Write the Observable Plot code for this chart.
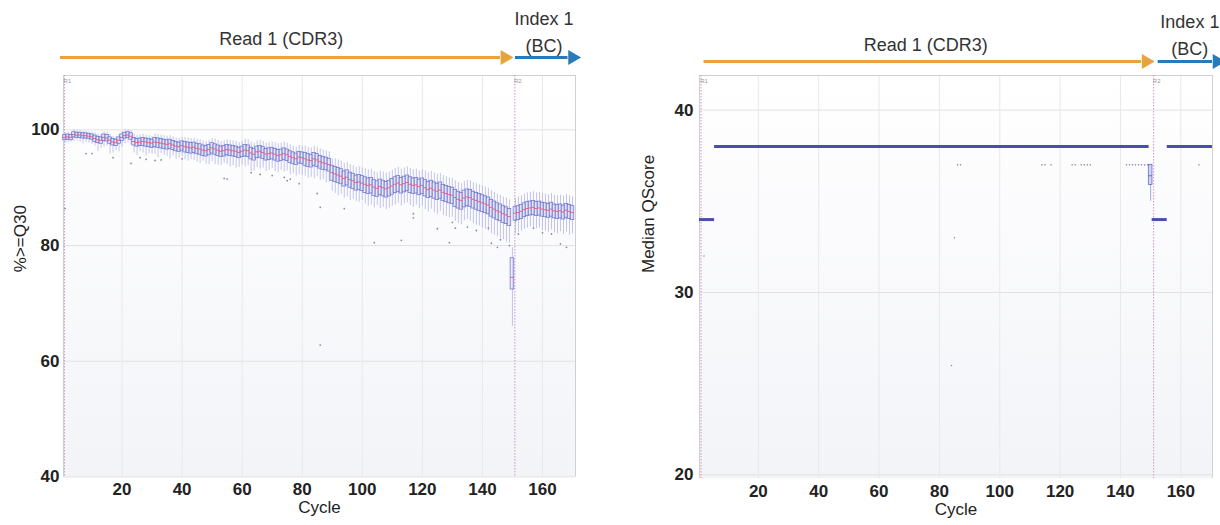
<!DOCTYPE html>
<html><head><meta charset="utf-8">
<script src="https://cdn.jsdelivr.net/npm/d3@7"></script>
<script src="https://cdn.jsdelivr.net/npm/@observablehq/plot@0.6"></script>
<style>
html,body{margin:0;padding:0;background:#fff;}
#wrap{position:relative;width:1220px;height:525px;overflow:hidden;}
#left{position:absolute;left:0;top:0;}
#right{position:absolute;left:630px;top:0;}
</style></head><body><div id="wrap"><div id="left"></div><div id="right"></div></div>
<script>
// ---------- shared ----------
const readNames = ["Read 1 (CDR3)", "Index 1\n(BC)"];
const readStart = [1, 151];
const readEnd = [150, 170];
const cycleTicks = [20, 40, 60, 80, 100, 120, 140, 160];

// ---------- left panel: %>=Q30 per cycle (box plot summaries) ----------
const q30Ticks = [40, 60, 80, 100];
const q30Median = [
98.7,98.8,98.7,99.2,99.1,99.1,99.0,99.0,98.9,98.8,
98.5,98.3,98.2,98.7,98.6,98.2,97.9,97.8,98.2,98.7,
99.0,99.1,98.9,98.0,97.8,97.9,98.0,97.9,97.8,97.7,
97.9,97.8,97.7,97.6,97.5,97.6,97.4,97.2,97.1,97.3,
97.1,97.0,96.9,97.0,96.8,96.7,96.5,96.4,96.6,96.9,
96.7,96.5,96.3,96.4,96.6,96.5,96.4,96.3,96.1,96.3,
96.5,96.4,96.0,95.8,96.2,96.3,96.1,95.8,95.9,96.0,
95.8,95.6,95.7,95.9,95.7,95.4,95.2,95.0,95.3,95.2,
95.0,94.8,94.7,95.0,94.8,94.5,94.3,94.2,94.0,92.6,
92.4,92.2,92.0,91.6,91.8,91.4,91.2,90.9,91.0,90.8,
90.6,90.4,90.5,90.1,89.9,90.2,90.0,89.8,90.0,90.3,
90.6,90.8,90.5,90.7,90.9,90.6,90.4,90.5,90.2,90.4,
90.0,89.7,89.9,89.6,89.4,89.6,89.2,89.0,88.8,88.7,
88.3,88.0,87.8,88.2,88.4,88.3,88.0,87.8,87.6,87.4,
87.2,87.0,86.6,86.3,86.0,85.8,85.5,85.3,85.0,74.5,
85.6,85.7,85.9,86.2,86.4,86.5,86.6,86.4,86.5,86.3,
86.2,86.1,86.3,86.0,85.9,86.0,85.8,86.1,85.9,85.7];
const q30Q1 = [
98.2,98.3,98.2,98.7,98.6,98.6,98.5,98.5,98.4,98.3,
97.9,97.7,97.6,98.1,98.0,97.6,97.3,97.2,97.6,98.1,
98.5,98.6,98.3,97.3,97.1,97.2,97.2,97.1,97.0,96.9,
97.0,96.9,96.8,96.7,96.6,96.7,96.5,96.3,96.2,96.4,
96.1,96.0,95.9,96.0,95.8,95.7,95.5,95.4,95.6,95.9,
95.7,95.5,95.3,95.4,95.6,95.5,95.4,95.3,95.1,95.3,
95.4,95.3,94.9,94.7,95.1,95.2,95.0,94.7,94.8,94.9,
94.7,94.5,94.6,94.8,94.6,94.3,94.1,93.9,94.2,94.1,
93.8,93.6,93.5,93.8,93.6,93.3,93.1,93.0,92.8,91.2,
91.0,90.8,90.6,90.2,90.4,90.0,89.8,89.5,89.6,89.4,
89.1,88.9,89.0,88.6,88.4,88.7,88.5,88.3,88.5,88.8,
89.1,89.3,89.0,89.2,89.4,89.1,88.9,89.0,88.7,88.9,
88.5,88.2,88.4,88.1,87.9,88.1,87.7,87.5,87.3,87.2,
86.7,86.4,86.2,86.6,86.8,86.7,86.4,86.2,86.0,85.8,
85.6,85.4,85.0,84.7,84.4,84.2,83.9,83.7,83.4,72.4,
84.3,84.4,84.6,84.9,85.1,85.2,85.3,85.1,85.2,85.0,
84.9,84.8,85.0,84.7,84.6,84.7,84.5,84.8,84.6,84.4];
const q30Q3 = [
99.1,99.2,99.1,99.6,99.5,99.5,99.4,99.4,99.3,99.2,
99.0,98.8,98.7,99.2,99.1,98.7,98.4,98.3,98.7,99.2,
99.5,99.6,99.4,98.6,98.4,98.5,98.6,98.5,98.4,98.3,
98.6,98.5,98.4,98.3,98.2,98.3,98.1,97.9,97.8,98.0,
97.9,97.8,97.7,97.8,97.6,97.5,97.3,97.2,97.4,97.7,
97.5,97.3,97.1,97.2,97.4,97.3,97.2,97.1,96.9,97.1,
97.4,97.3,96.9,96.7,97.1,97.2,97.0,96.7,96.8,96.9,
96.7,96.5,96.6,96.8,96.6,96.3,96.1,95.9,96.2,96.1,
96.0,95.8,95.7,96.0,95.8,95.5,95.3,95.2,95.0,93.8,
93.6,93.4,93.2,92.8,93.0,92.6,92.4,92.1,92.2,92.0,
91.8,91.6,91.7,91.3,91.1,91.4,91.2,91.0,91.2,91.5,
91.8,92.0,91.7,91.9,92.1,91.8,91.6,91.7,91.4,91.6,
91.3,91.0,91.2,90.9,90.7,90.9,90.5,90.3,90.1,90.0,
89.6,89.3,89.1,89.5,89.7,89.6,89.3,89.1,88.9,88.7,
88.5,88.3,87.9,87.6,87.3,87.1,86.8,86.6,86.3,77.8,
86.7,86.8,87.0,87.3,87.5,87.6,87.7,87.5,87.6,87.4,
87.3,87.2,87.4,87.1,87.0,87.1,86.9,87.2,87.0,86.8];
const q30Low = [
97.6,97.8,97.9,98.0,98.1,97.9,97.6,97.8,97.7,97.5,
97.2,96.3,96.8,97.0,97.2,95.8,96.0,96.4,96.2,97.0,
97.6,97.8,97.4,96.0,95.6,96.2,96.0,95.5,95.9,95.8,
95.8,95.2,95.9,95.6,95.4,95.0,95.5,94.9,95.1,95.4,
94.8,94.6,94.9,94.7,94.4,94.2,94.6,94.1,94.0,94.5,
94.0,93.9,93.8,94.2,94.0,93.6,93.8,93.4,93.5,93.9,
93.6,93.8,92.8,92.9,93.5,93.2,93.4,92.8,93.0,93.3,
92.8,92.6,93.0,92.7,92.9,92.2,92.4,92.0,92.3,92.1,
92.0,91.6,91.8,91.5,91.9,91.2,91.4,90.8,91.0,89.4,
89.0,88.6,88.9,88.2,88.4,87.8,88.0,87.6,87.5,87.8,
87.2,86.8,87.0,86.5,86.9,86.4,86.6,86.2,86.5,86.8,
87.0,87.3,86.8,87.2,87.4,86.9,86.6,87.0,86.4,86.8,
86.2,85.8,86.3,85.7,85.4,85.9,85.2,85.0,84.8,84.9,
84.2,83.8,83.6,84.3,84.5,84.2,83.8,83.5,83.4,83.0,
82.8,82.5,82.0,81.8,81.5,81.2,81.0,80.6,80.4,66.0,
82.0,82.3,82.5,82.8,83.0,83.2,83.1,82.9,83.0,82.6,
82.5,82.3,82.7,82.2,82.0,82.4,81.9,82.3,81.8,82.0];
const q30High = [
99.5,99.6,99.5,100.0,99.9,99.9,99.8,99.8,99.7,99.6,
99.5,99.3,99.2,99.7,99.6,99.2,98.9,98.8,99.2,99.7,
100.0,100.0,99.9,99.2,99.0,99.1,99.2,99.1,99.0,98.9,
99.3,99.2,99.1,99.0,98.9,99.0,98.8,98.6,98.5,98.7,
98.7,98.6,98.5,98.6,98.4,98.3,98.1,98.0,98.2,98.5,
98.4,98.2,98.0,98.1,98.3,98.2,98.1,98.0,97.8,98.0,
98.4,98.3,97.9,97.7,98.1,98.2,98.0,97.7,97.8,97.9,
97.8,97.6,97.7,97.9,97.7,97.4,97.2,97.0,97.3,97.2,
97.2,97.0,96.9,97.2,97.0,96.7,96.5,96.4,96.2,95.0,
95.0,94.8,94.6,94.2,94.4,94.0,93.8,93.5,93.6,93.4,
93.3,93.1,93.2,92.8,92.6,92.9,92.7,92.5,92.7,93.0,
93.3,93.5,93.2,93.4,93.6,93.3,93.1,93.2,92.9,93.1,
92.9,92.6,92.8,92.5,92.3,92.5,92.1,91.9,91.7,91.6,
91.2,90.9,90.7,91.1,91.3,91.2,90.9,90.7,90.5,90.3,
90.1,89.9,89.5,89.2,88.9,88.7,88.4,88.2,87.9,79.6,
88.2,88.4,88.6,88.9,89.1,89.2,89.3,89.1,89.2,89.0,
88.9,88.8,89.0,88.7,88.6,88.7,88.5,88.8,88.6,88.4];
const q30OutCycle = [1,8,10,17,23,26,28,31,33,40,54,55,63,66,70,74,75,76,79,85,86,86,94,104,113,117,117,125,129,130,131,135,138,142,143,145,146,149,151,152,157,160,163,166,168];
const q30OutValue = [86.4,95.9,95.9,95.2,94.2,95.2,94.9,94.7,94.8,95.0,91.6,91.5,92.6,92.3,92.1,91.8,91.2,91.5,90.7,89.0,86.6,62.8,86.4,80.5,80.9,85.5,84.8,82.9,80.5,84.0,83.0,83.2,82.6,83.0,80.4,79.7,81.0,80.0,84.3,82.0,83.0,82.2,82.0,80.3,79.7];

// ---------- right panel: median QScore per cycle ----------
const qsTicks = [20, 30, 40];
const qsRunFrom = [1, 6, 151, 156];
const qsRunTo = [5, 149, 155, 170];
const qsRunMedian = [34, 38, 34, 38];
const qsBoxCycle = [150];
const qsBoxLow = [35.0];
const qsBoxQ1 = [35.9];
const qsBoxMedian = [36.4];
const qsBoxQ3 = [37.0];
const qsBoxHigh = [37.0];
const qsOutCycle = [2,84,85,86,87,114,115,117,124,125,127,128,129,130,142,143,144,145,146,147,148,149,166];
const qsOutValue = [32,26,33,37,37,37,37,37,37,37,37,37,37,37,37,37,37,37,37,37,37,37,37];

// ---------- tables ----------
const reads = readNames.map((name, i) => ({name, start: readStart[i], end: readEnd[i]}));
const q30 = q30Median.map((m, i) => ({cycle: i + 1, med: m, q1: q30Q1[i], q3: q30Q3[i], lo: q30Low[i], hi: q30High[i]}));
const q30Out = q30OutCycle.map((c, i) => ({cycle: c, v: q30OutValue[i]}));
const qsRuns = qsRunFrom.map((f, i) => ({from: f, to: qsRunTo[i], med: qsRunMedian[i]}));
const qsBox = qsBoxCycle.map((c, i) => ({cycle: c, lo: qsBoxLow[i], q1: qsBoxQ1[i], med: qsBoxMedian[i], q3: qsBoxQ3[i], hi: qsBoxHigh[i]}));
const qsOut = qsOutCycle.map((c, i) => ({cycle: c, v: qsOutValue[i]}));

const FONT = "'Liberation Sans', Arial, sans-serif";
const readColors = ["#e8a33b", "#2a7ab7"];

function panel({width, marginLeft, marginRight, xDomain, yDomain, yTicks, yLabel, yLabelDx, gradId, annot, data}) {
  const yTop = yDomain[1];
  const marks = [
    Plot.frame({fill: `url(#${gradId})`, stroke: null}),
    Plot.ruleY(yTicks, {stroke: "#e2e2e2", strokeWidth: 1}),
    Plot.ruleX(cycleTicks, {stroke: "#e8e8ec", strokeWidth: 1}),
    Plot.ruleY([yTop], {stroke: "#cfcfcf"}),
    Plot.ruleX(xDomain, {stroke: "#cfcfd4"}),
    Plot.ruleX(readStart, {x: d => d + annot.rOff, stroke: "#cf94c6", strokeDasharray: "1.5,1.5", strokeWidth: 1}),
    Plot.text(readStart, {x: d => d + annot.rOff, y: () => yTop, text: (d, i) => "R" + (i + 1), fontSize: 6, fill: "#999", dy: 6, dx: 3}),
    ...data,
    Plot.axisY({ticks: yTicks, tickSize: 0, tickPadding: annot.yPad, fontSize: 17, fontWeight: "bold", fill: "#222", label: null}),
    Plot.axisX({ticks: cycleTicks, tickSize: 0, tickPadding: 6, fontSize: 17, fontWeight: "bold", fill: "#222", label: null}),
    Plot.text(["Cycle"], {frameAnchor: "bottom", dy: annot.cycleDy, fontSize: 17, fill: "#222"}),
    Plot.text([yLabel], {frameAnchor: "left", rotate: -90, dx: yLabelDx, dy: -4, fontSize: 17, fill: "#222"}),
    // read annotations
    Plot.ruleY(reads, {x1: (d, i) => d.start + annot.lineFrom[i], x2: (d, i) => d.end + annot.lineTo[i], y: () => yTop, dy: annot.arrowDy, stroke: "name", strokeWidth: 3}),
    Plot.dot(reads, {x: (d, i) => d.end + annot.lineTo[i] + 1.5, y: () => yTop, dy: annot.arrowDy, symbol: "triangle", rotate: 90, r: 5.5, fill: "name", stroke: null}),
    ...reads.map((r, i) => Plot.text([r], {x: d => (d.start + d.end) / 2 + annot.textOff[i], y: () => yTop, dy: annot.textDy[i], text: "name", lineAnchor: "bottom", lineHeight: 1.45, fontSize: 18, fill: "#333"}))
  ];
  const svg = Plot.plot({
    width, height: 525, marginTop: 75, marginBottom: annot.marginBottom, marginLeft, marginRight,
    style: {fontFamily: FONT, background: "transparent", overflow: "visible"},
    x: {domain: xDomain},
    y: {domain: yDomain},
    color: {domain: readNames, range: readColors},
    marks
  });
  const defs = d3.select(svg).insert("defs", ":first-child");
  const g = defs.append("linearGradient").attr("id", gradId).attr("x1", 0).attr("y1", 0).attr("x2", 0).attr("y2", 1);
  g.append("stop").attr("offset", "0%").attr("stop-color", "#ffffff");
  g.append("stop").attr("offset", "100%").attr("stop-color", "#f3f4f8");
  return svg;
}

const boxHalf = 0.6;
const leftData = [
  Plot.ruleX(q30, {x: "cycle", y1: "lo", y2: "hi", stroke: "#a9addf", strokeWidth: 0.7}),
  Plot.rect(q30, {x1: d => d.cycle - boxHalf, x2: d => d.cycle + boxHalf, y1: "q1", y2: "q3", fill: "#e4e5f8", fillOpacity: 0.5, stroke: "#6c70cf", strokeWidth: 0.75}),
  Plot.ruleY(q30, {x1: d => d.cycle - boxHalf, x2: d => d.cycle + boxHalf, y: "med", stroke: "#e3648c", strokeWidth: 1}),
  Plot.dot(q30Out, {x: "cycle", y: "v", r: 0.9, fill: "#8a8aa6", stroke: null})
];
document.getElementById("left").appendChild(panel({
  width: 600, marginLeft: 63, marginRight: 25, xDomain: [0.5, 171], yDomain: [40, 109.4], yTicks: q30Ticks,
  yLabel: "%>=Q30", yLabelDx: -43, gradId: "bgL", data: leftData,
  annot: {rOff: -0.2, yPad: 4, marginBottom: 48.6, cycleDy: 36, arrowDy: -18, textDy: [-31, -24], lineFrom: [-1.5, 0], lineTo: [-4, -1.5], textOff: [-2.5, 0]}
}));

const rightData = [
  Plot.ruleY(qsRuns, {x1: d => d.from - 0.5, x2: d => d.to + 0.5, y: "med", stroke: "#4b4fab", strokeWidth: 3}),
  Plot.ruleX(qsBox, {x: "cycle", y1: "lo", y2: "hi", stroke: "#8e92d8", strokeWidth: 0.8}),
  Plot.rect(qsBox, {x1: d => d.cycle - 0.6, x2: d => d.cycle + 0.6, y1: "q1", y2: "q3", fill: "#d3d5f3", stroke: "#6569cc", strokeWidth: 0.8}),
  Plot.ruleY(qsBox, {x1: d => d.cycle - 0.6, x2: d => d.cycle + 0.6, y: "med", stroke: "#6569cc", strokeWidth: 1}),
  Plot.dot(qsOut, {x: "cycle", y: "v", r: 0.8, fill: "#8a8aa6", stroke: null})
];
document.getElementById("right").appendChild(panel({
  width: 590, marginLeft: 69, marginRight: 8, xDomain: [0.5, 170.5], yDomain: [19.8, 41.9], yTicks: qsTicks,
  yLabel: "Median QScore", yLabelDx: -51, gradId: "bgR", data: rightData,
  annot: {rOff: 0, yPad: 6, marginBottom: 47, cycleDy: 36, arrowDy: -14, textDy: [-25, -21], lineFrom: [1, 1.5], lineTo: [-3, 0.5], textOff: [0, 2.5]}
}));
</script></body></html>
